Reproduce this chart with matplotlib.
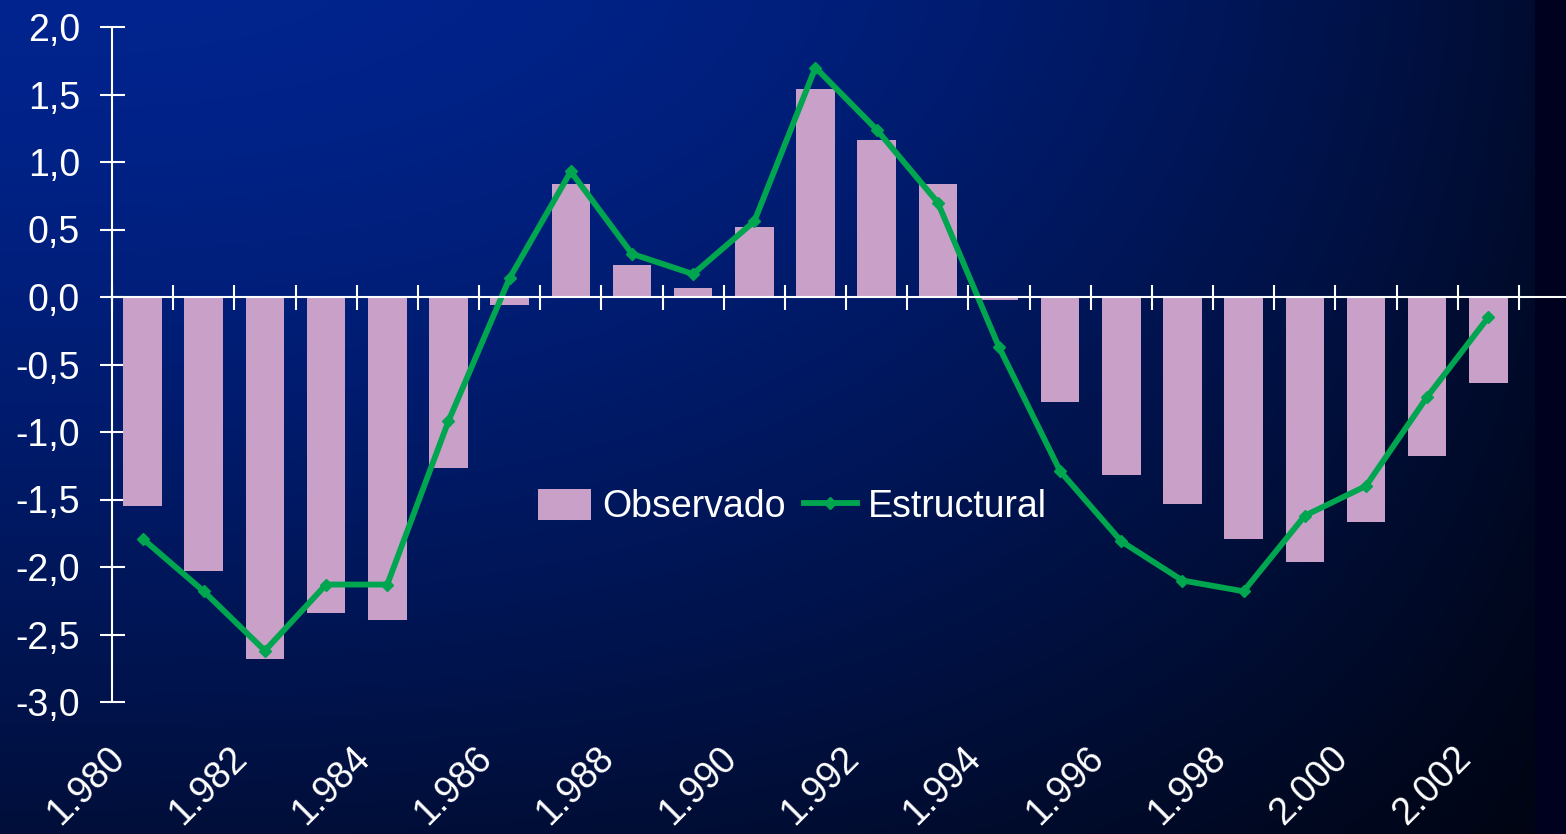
import numpy as np
import matplotlib
matplotlib.use("Agg")
import matplotlib.pyplot as plt
from matplotlib.transforms import blended_transform_factory

plt.rcParams['font.family'] = ['Liberation Sans', 'DejaVu Sans']

# data
years = list(range(1980, 2003))
observado = [-1.55, -2.03, -2.68, -2.34, -2.39, -1.27, -0.06, 0.84, 0.24, 0.07,
             0.52, 1.54, 1.16, 0.84, -0.02, -0.78, -1.32, -1.53, -1.79, -1.96,
             -1.67, -1.18, -0.64]
estructural = [-1.79, -2.18, -2.62, -2.13, -2.13, -0.92, 0.14, 0.93, 0.32, 0.17,
               0.56, 1.70, 1.24, 0.70, -0.37, -1.29, -1.81, -2.10, -2.18, -1.62,
               -1.40, -0.74, -0.15]
y_ticks = [2.0, 1.5, 1.0, 0.5, 0.0, -0.5, -1.0, -1.5, -2.0, -2.5, -3.0]

W, H = 1566, 834
fig = plt.figure(figsize=(W / 100, H / 100), dpi=100)

# background gradient (blue top-left -> near black right/bottom)
bg = fig.add_axes([0, 0, 1, 1])
bg.axis('off')
u = np.linspace(0, 1, W)[None, :]
v = np.linspace(0, 1, H)[:, None]
f = 1 - 0.7 * u ** 2.5
g = 1 - 0.6 * v ** 1.4
blue = 142 * f * g
img = np.zeros((H, W, 3))
img[..., 1] = 0.25 * blue / 255
img[..., 2] = blue / 255
img[:, 1535:, :] = np.array([0, 0, 32]) / 255
bg.imshow(img, extent=[0, 1, 0, 1], aspect='auto', zorder=-10)

ax = fig.add_axes([112 / W, 1 - 702 / H, 1 - 112 / W, 675 / H])
ax.patch.set_alpha(0)

x = np.arange(len(years))
ax.bar(x, observado, width=0.63, color='#c8a0c8', label='Observado', zorder=2)
ax.plot(x, estructural, color='#00a550', lw=4.2, marker='D', markersize=6.5,
        label='Estructural', zorder=3)

ax.set_xlim(-0.5, 23.27)
ax.set_ylim(-3.0, 2.0)

for s in ['top', 'right']:
    ax.spines[s].set_visible(False)
ax.spines['left'].set_color('white')
ax.spines['left'].set_linewidth(1.5)
ax.spines['bottom'].set_position(('data', 0))
ax.spines['bottom'].set_color('white')
ax.spines['bottom'].set_linewidth(1.5)
ax.spines['bottom'].set_zorder(4)

ax.set_yticks(y_ticks)
ax.set_yticklabels([f"{t:.1f}".replace('.', ',') for t in y_ticks])
ax.tick_params(axis='y', direction='inout', length=18, width=1.5, colors='white',
               labelsize=27, pad=14)

ax.set_xticks(np.arange(len(years) + 1) - 0.5)
ax.set_xticklabels([])
ax.tick_params(axis='x', direction='inout', length=18, width=1.5, colors='white')

trans = blended_transform_factory(ax.transData, fig.transFigure)
for i, yr in enumerate(years):
    if i % 2 == 0:
        lbl = f"{yr // 1000}.{yr % 1000:03d}"
        ax.text(i - 0.38, 1 - 753 / H, lbl, transform=trans, rotation=45,
                ha='right', va='center', rotation_mode='anchor',
                color='white', fontsize=27, clip_on=False)

handles, labels = ax.get_legend_handles_labels()
order = [labels.index('Observado'), labels.index('Estructural')]
leg = ax.legend([handles[k] for k in order], [labels[k] for k in order],
                loc='center', bbox_to_anchor=(0.468, 0.289), ncol=2,
                frameon=False, fontsize=27, handlelength=1.4, handleheight=0.9,
                handletextpad=0.3, columnspacing=0.5, numpoints=1)
for t in leg.get_texts():
    t.set_color('white')

fig.savefig('out.png', dpi=100)
